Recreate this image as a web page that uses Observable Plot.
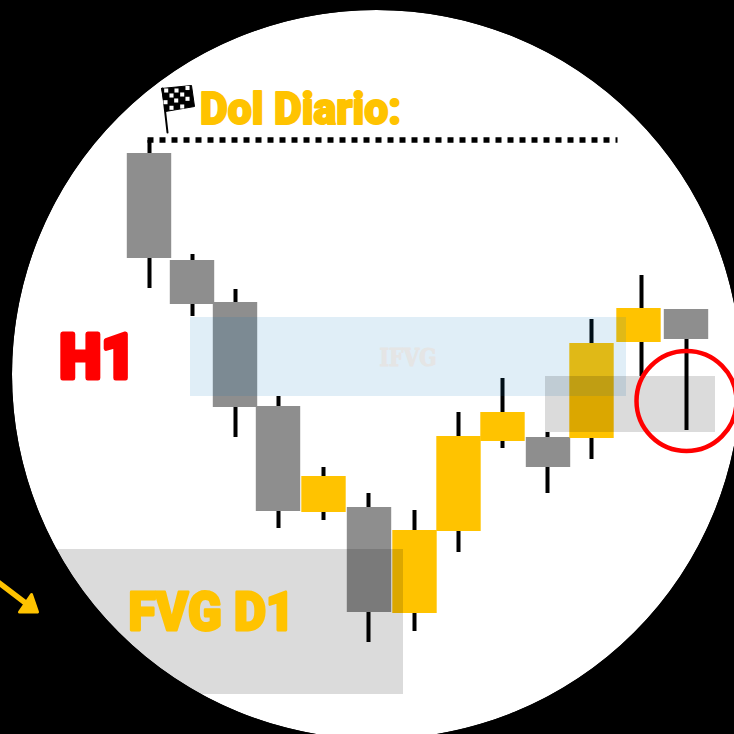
<!DOCTYPE html>
<html>
<head>
<meta charset="utf-8">
<script src="https://cdn.jsdelivr.net/npm/d3@7"></script>
<script src="https://cdn.jsdelivr.net/npm/@observablehq/plot@0.6"></script>
<style>html,body{margin:0;padding:0;background:#000;overflow:hidden}svg{display:block}</style>
</head>
<body>
<div id="chart"></div>
<script>
const bodyX = [149,192,235,278,323.5,369,414.5,458.5,502.5,548,591.5,638.5,686];
const wickX = [149,192,235,278,323,368,414,458,502,547,591,641,686];
const open  = [581,474,432,328,222,227,121,203,293,297,296,392,425];
const close = [476,430,327,223,258,122,204,298,322,267,391,426,395];
const high  = [594,480,445,338,267,241,224,322,356,302,415,459,425];
const low   = [446,418,297,206,214,92,103,182,286,241,275,358,304];
const halfBody = 22.2;

const zoneName = ["FVG D1","IFVG","FVG H1"];
const zoneX1 = [0,190,545];
const zoneX2 = [403,626,715];
const zoneY1 = [40,338,302];
const zoneY2 = [185,417,358];
const zoneFill = ["#000000","#0070C0","#000000"];
const zoneOpacity = [0.14,0.12,0.14];

const levelX = [147,617];
const levelY = [594.5,594.5];

const labelText = ["Dol Diario:","H1","FVG D1","IFVG"];
const labelX = [199.5,59,128,379];
const labelY = [625,376.5,122,377];
const labelSize = [44,62,54,25];
const labelLength = [201,76,166,57];
const labelFill = ["#FFC300","#FF0000","#FFC300","#E5E5E5"];
const labelFont = ["Roboto","Roboto","Roboto","DejaVu Serif"];
const labelStroke = [2,5,2.8,1];

const flagPolyX = [161,191,194,165,161];
const flagPolyY = [646,649,628,623,646];
const poleX = [162,167];
const poleY = [646,602];
const cellX = [165.7,176,187,171,181.7,165,175.7,187,171,181.7];
const cellY = [644,644,646.5,639,640,632.3,634,635.7,626.7,628];

const arrowX = [-2,27];
const arrowY = [152,130];
const headX = [19,31,37,19];
const headY = [122.5,140,122.5,122.5];

const sigX = [686];
const sigY = [333.5];

const idx = d3.range(bodyX.length);
const up = i => close[i] > open[i];
const bodyColor = i => up(i) ? "#FFC300" : "#8E8E8E";
const zones = d3.range(zoneName.length);
const labels = d3.range(labelText.length);

const fig = Plot.plot({
  width: 734, height: 734,
  margin: 0,
  style: {background: "#000", overflow: "hidden"},
  x: {domain: [0,734], range: [0,734], axis: null},
  y: {domain: [0,734], range: [734,0], axis: null},
  marks: [
    Plot.dot([0], {x: () => 376, y: () => 360, r: 364.5, fill: "#fff", stroke: "none"}),
    Plot.ruleX(idx, {x: i => wickX[i], y1: i => low[i], y2: i => high[i], stroke: "#000", strokeWidth: 4}),
    Plot.rect(idx, {
      x1: i => bodyX[i] - halfBody, x2: i => bodyX[i] + halfBody,
      y1: i => open[i], y2: i => close[i], fill: i => bodyColor(i)
    }),
    Plot.rect(zones, {
      x1: i => zoneX1[i], x2: i => zoneX2[i], y1: i => zoneY1[i], y2: i => zoneY2[i],
      fill: i => zoneFill[i], fillOpacity: i => zoneOpacity[i]
    }),
    Plot.dot([0], {x: () => 376, y: () => 360, r: 864.5, fill: "none", stroke: "#000", strokeWidth: 1000}),
    Plot.line(levelX.map((x,i) => [x, levelY[i]]), {x: d => d[0], y: d => d[1], stroke: "#000", strokeWidth: 5.5, strokeDasharray: "6,6", strokeLinecap: "butt", strokeLinejoin: "miter"}),
    Plot.line(flagPolyX.map((x,i) => [x, flagPolyY[i]]), {x: d => d[0], y: d => d[1], fill: "#000", stroke: "#000", strokeWidth: 1}),
    Plot.line(poleX.map((x,i) => [x, poleY[i]]), {x: d => d[0], y: d => d[1], stroke: "#000", strokeWidth: 2}),
    Plot.dot(cellX.map((x,i) => [x, cellY[i]]), {x: d => d[0], y: d => d[1], symbol: "square", r: 2.3, fill: "#fff", stroke: "none"}),
    Plot.text(labels, {
      x: i => labelX[i], y: i => labelY[i], text: i => labelText[i],
      textAnchor: "start", lineAnchor: "middle",
      fill: i => labelFill[i], stroke: i => labelFill[i], strokeWidth: i => labelStroke[i],
      fontSize: i => labelSize[i], fontWeight: 900,
      fontFamily: i => labelFont[i], strokeLinejoin: "round"
    }),
    Plot.dot(sigX.map((x,i) => [x, sigY[i]]), {x: d => d[0], y: d => d[1], r: 50, fill: "none", stroke: "#FF0000", strokeWidth: 4.5}),
    Plot.line(arrowX.map((x,i) => [x, arrowY[i]]), {x: d => d[0], y: d => d[1], stroke: "#FFC300", strokeWidth: 5.5}),
    Plot.line(headX.map((x,i) => [x, headY[i]]), {x: d => d[0], y: d => d[1], fill: "#FFC300", stroke: "#FFC300", strokeWidth: 3, strokeLinejoin: "round"})
  ]
});
d3.select(fig).selectAll("text").filter(function(){return this.textContent && labelText.includes(this.textContent);})
  .each(function(){
    const i = labelText.indexOf(this.textContent);
    this.setAttribute("textLength", labelLength[i]);
    this.setAttribute("lengthAdjust", "spacingAndGlyphs");
    this.style.fontSize = labelSize[i] + "px";
    this.style.fontFamily = labelFont[i];
    this.style.fontWeight = 900;
  });
document.getElementById("chart").append(fig);
</script>
</body>
</html>
